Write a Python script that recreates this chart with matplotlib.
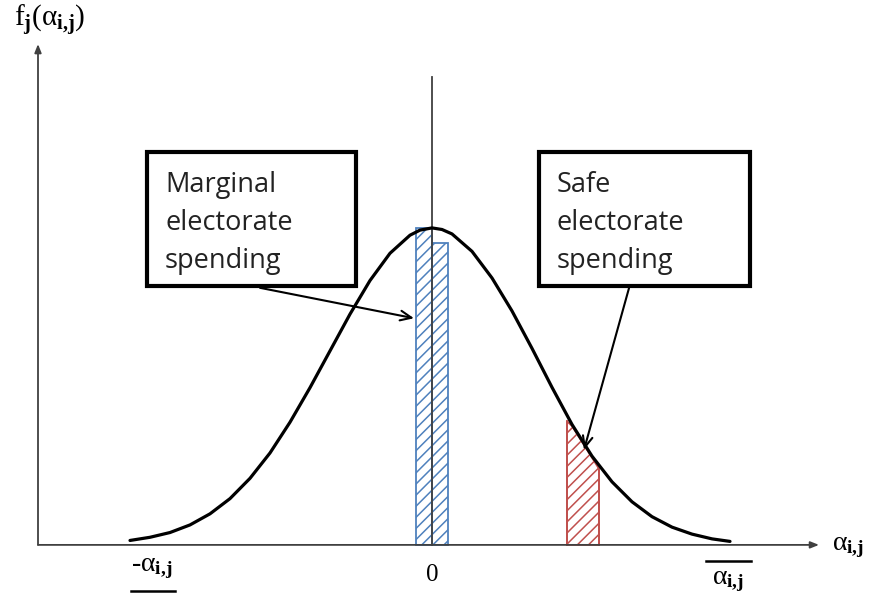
import numpy as np
import matplotlib
matplotlib.use("Agg")
import matplotlib.pyplot as plt
from matplotlib.patches import Rectangle

# density curve (x in sigma units, height relative to peak)
curve_x = [-3.02, -2.82, -2.62, -2.42, -2.22, -2.02, -1.82, -1.62, -1.42, -1.22,
           -1.02, -0.82, -0.62, -0.42, -0.22, -0.12, 0.0,
           0.1, 0.2, 0.4, 0.6, 0.8, 1.0, 1.2, 1.4, 1.6, 1.8, 2.0, 2.2, 2.4, 2.6, 2.8, 2.98]
curve_y = [0.014, 0.024, 0.039, 0.063, 0.098, 0.146, 0.210, 0.290, 0.387, 0.496,
           0.612, 0.728, 0.834, 0.920, 0.977, 0.993, 1.0,
           0.995, 0.981, 0.926, 0.842, 0.738, 0.620, 0.497, 0.380, 0.280, 0.199,
           0.136, 0.089, 0.056, 0.034, 0.019, 0.011]

# marginal electorate spending bars
marg_left = [-0.16, 0.0]
marg_height = [1.0, 0.953]
marg_width = 0.16

# safe electorate spending region
safe_x = [1.35, 1.40, 1.60, 1.67]
safe_top = [0.39, 0.375, 0.275, 0.24]

box_texts = [["Marginal", "electorate", "spending"], ["Safe", "electorate", "spending"]]

plt.rcParams['mathtext.fontset'] = 'custom'
plt.rcParams['mathtext.rm'] = 'Liberation Serif'
plt.rcParams['mathtext.it'] = 'Liberation Serif'
plt.rcParams['mathtext.bf'] = 'Liberation Serif:bold'
plt.rcParams['hatch.linewidth'] = 1.1

fig = plt.figure(figsize=(8.7, 6.01), dpi=100)
ax = fig.add_axes([0, 0, 1, 1])
ax.set_xlim(-4.32, 4.38)
ax.set_ylim(-0.177, 1.719)
ax.axis('off')

blue = '#4F81BD'
red = '#C0504D'
axcol = '#404040'

# axes with arrows
ax.annotate('', xy=(3.87, 0), xytext=(-3.94, 0),
            arrowprops=dict(arrowstyle='-|>,head_length=0.5,head_width=0.2', color=axcol, lw=1.3,
                            shrinkA=0, shrinkB=0))
ax.annotate('', xy=(-3.94, 1.58), xytext=(-3.94, 0),
            arrowprops=dict(arrowstyle='-|>,head_length=0.5,head_width=0.2', color=axcol, lw=1.3,
                            shrinkA=0, shrinkB=0))
ax.plot([0, 0], [0, 1.476], color=axcol, lw=1.3, zorder=3)

# hatched regions
ax.bar(marg_left, marg_height, width=marg_width, align='edge', facecolor='white',
       edgecolor=blue, hatch='///', lw=1.3, zorder=2)
ax.fill_between(safe_x, 0, safe_top, facecolor='white', edgecolor=red, hatch='///',
                lw=1.3, zorder=2)
ax.plot([safe_x[0], safe_x[0]], [0, safe_top[0]], color=red, lw=1.3, zorder=2)
ax.plot([safe_x[-1], safe_x[-1]], [0, safe_top[-1]], color=red, lw=1.3, zorder=2)

# curve
ax.plot(curve_x, curve_y, color='black', lw=2.3, zorder=4, solid_capstyle='round')

# boxes
for (x0, x1), lines in zip([(-2.85, -0.76), (1.07, 3.18)], box_texts):
    ax.add_patch(Rectangle((x0, 0.817), x1 - x0, 1.240 - 0.817, facecolor='white',
                           edgecolor='black', lw=3, zorder=5))
    for k, s in enumerate(lines):
        ax.text(x0 + 0.18, (545 - 192 - 38 * k) / 317, s, fontsize=19.5, family='Open Sans',
                color='#222222', va='baseline', ha='left', zorder=6)

arr = dict(arrowstyle='->,head_length=0.8,head_width=0.35', color='black', lw=1.5,
           shrinkA=0, shrinkB=0)
ax.annotate('', xy=(-0.18, 0.715), xytext=(-1.72, 0.811), arrowprops=arr, zorder=6)
ax.annotate('', xy=(1.52, 0.300), xytext=(1.97, 0.810), arrowprops=arr, zorder=6)

# labels
ax.text(-3.82, 1.655, r'$\mathrm{f}_{\mathbf{j}}(\alpha_{\mathbf{i{,}j}})$', fontsize=21,
        ha='center', va='center')
ax.text(4.0, -0.005, r'$\alpha_{\mathbf{i{,}j}}$', fontsize=20, ha='left', va='center')
ax.text(0.0, -0.095, '0', fontsize=18, family='Liberation Serif', ha='center', va='center')
ax.text(-2.80, -0.075, '-' + r'$\alpha_{\mathbf{i{,}j}}$', fontsize=20, family='Liberation Serif',
        ha='center', va='center')
ax.text(2.96, -0.11, r'$\alpha_{\mathbf{i{,}j}}$', fontsize=20, ha='center', va='center')
ax.plot([-3.01, -2.57], [-0.145, -0.145], color='black', lw=1.8)
ax.plot([2.74, 3.19], [-0.050, -0.050], color='black', lw=1.8)

fig.savefig('out.png', dpi=100)
